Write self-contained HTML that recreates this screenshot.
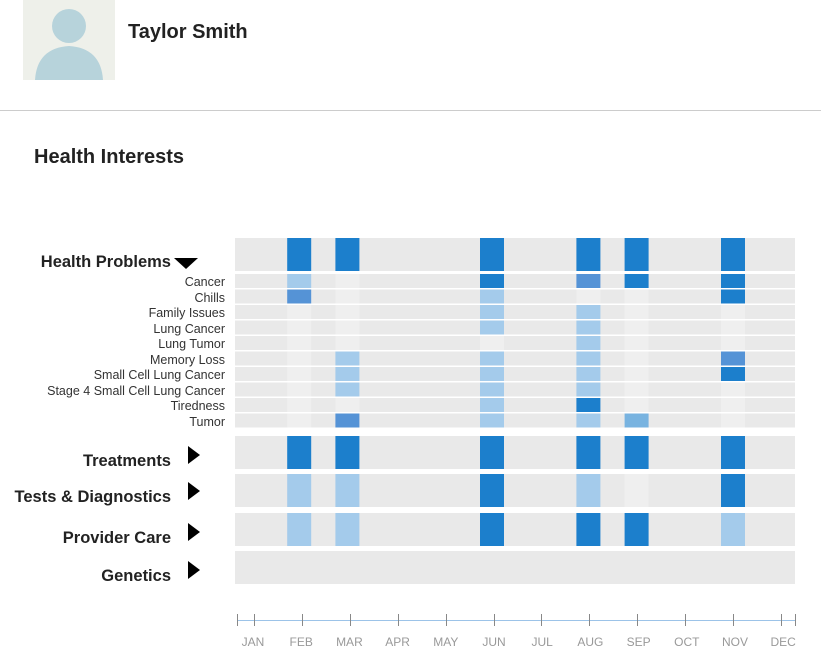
<!DOCTYPE html>
<html><head><meta charset="utf-8"><style>
body{margin:0;width:821px;height:667px;background:#fff;font-family:"Liberation Sans",Arial,sans-serif;position:relative;overflow:hidden}
.abs{position:absolute}
.lbl{position:absolute;right:596px;font-size:12.5px;color:#333;white-space:nowrap;text-align:right}
.grp{position:absolute;font-size:16.5px;font-weight:bold;color:#222;white-space:nowrap;text-align:right;right:650px}
.tri{position:absolute;width:0;height:0}
</style></head><body>
<div class="abs" style="left:23px;top:0;width:92px;height:80px;background:#eef0ea;overflow:hidden">
<svg width="92" height="80"><circle cx="46" cy="26" r="17" fill="#b7d3db"/><path d="M12 80 Q14 48 46 46 Q78 48 80 80Z" fill="#b7d3db"/></svg></div>
<div class="abs" style="left:128px;top:21px;font-size:20px;font-weight:bold;color:#222">Taylor Smith</div>
<div class="abs" style="left:0;top:110px;width:821px;height:1px;background:#ccc"></div>
<div class="abs" style="left:34px;top:146px;font-size:20px;font-weight:bold;color:#222">Health Interests</div>
<svg id="chart" class="abs" style="left:0;top:0" width="821" height="667"></svg>
<div id="labels"></div>
<script>
const months=["JAN","FEB","MAR","APR","MAY","JUN","JUL","AUG","SEP","OCT","NOV","DEC"];
const activeMonths=[1,2,5,7,8,10];
const groups=["Health Problems","Treatments","Tests & Diagnostics","Provider Care","Genetics"];
const groupValues=[[4,4,4,4,4,4],[4,4,4,4,4,4],[2,2,4,2,1,4],[2,2,4,4,4,2],[0,0,0,0,0,0]];
const subRows=["Cancer","Chills","Family Issues","Lung Cancer","Lung Tumor","Memory Loss","Small Cell Lung Cancer","Stage 4 Small Cell Lung Cancer","Tiredness","Tumor"];
const subValues=[[2,1,4,3,4,4],[3,1,2,1,1,4],[1,1,2,2,1,1],[1,1,2,2,1,1],[1,1,1,2,1,1],[1,2,2,2,1,3],[1,2,2,2,1,4],[1,2,2,2,1,1],[1,1,2,4,1,1],[1,3,2,2,2.5,1]];
const colors={0:null,1:"#efefef",2:"#a4cbeb",2.5:"#78b3e0",3:"#5593d6",4:"#1c7fcc"};
const svg=document.getElementById('chart');const NS="http://www.w3.org/2000/svg";
const x=m=>251+48.2*m;
function rect(a,b,w,h,f,name){const r=document.createElementNS(NS,'rect');r.setAttribute('x',a);r.setAttribute('y',b);r.setAttribute('width',w);r.setAttribute('height',h);r.setAttribute('fill',f);


svg.appendChild(r);return r;}
const groupY=[238,436,474,513,551],groupH=33;
const labelCenters=[263,462,498,539,577];
const labels=document.getElementById('labels');
groups.forEach((g,i)=>{
 rect(235,groupY[i],560,groupH,"#e9e9e9","group-band");
 groupValues[i].forEach((v,j)=>{if(colors[v])rect(x(activeMonths[j])-12,groupY[i],24,groupH,colors[v],"cell");});
 const d=document.createElement('div');d.className='grp';d.style.top=(labelCenters[i]-10)+'px';d.textContent=g;
 if(i==0){d.style.right='650px';}
 
 
 labels.appendChild(d);
 const t=document.createElement('div');t.className='tri';
 if(i==0){t.style.left='174px';t.style.top='258px';t.style.borderLeft='12px solid transparent';t.style.borderRight='12px solid transparent';t.style.borderTop='11px solid #000';}
 else{t.style.left='188px';t.style.top=(labelCenters[i]-16)+'px';t.style.borderTop='9px solid transparent';t.style.borderBottom='9px solid transparent';t.style.borderLeft='12px solid #000';}
 
 
 labels.appendChild(t);
});
const subY0=274,subH=15.5;
subRows.forEach((s,i)=>{
 const y=subY0+i*subH;
 rect(235,y,560,subH-1.5,"#e9e9e9","sub-band");
 subValues[i].forEach((v,j)=>{if(colors[v])rect(x(activeMonths[j])-12,y,24,subH-1.5,colors[v],"cell");});
 const d=document.createElement('div');d.className='lbl';d.style.top=(y+1)+'px';d.textContent=s;
 
 
 labels.appendChild(d);
});
function line(x1,y1,x2,y2,c){const l=document.createElementNS(NS,'line');l.setAttribute('x1',x1);l.setAttribute('y1',y1);l.setAttribute('x2',x2);l.setAttribute('y2',y2);l.setAttribute('stroke',c);


svg.appendChild(l);}
line(237,620.5,796,620.5,"#9cc3e8");
line(237.5,614,237.5,626,"#888");line(795.5,614,795.5,626,"#888");
months.forEach((m,i)=>{const tx=Math.round(254+47.9*i)+.5;line(tx,614,tx,626,"#888");
 const t=document.createElementNS(NS,'text');t.setAttribute('x',x(i)+2);t.setAttribute('y',646);t.setAttribute('text-anchor','middle');t.setAttribute('font-size','12');t.setAttribute('fill','#999');t.setAttribute('font-family','Liberation Sans, Arial, sans-serif');t.textContent=m;
 
 
 svg.appendChild(t);});
</script>
</body></html>
